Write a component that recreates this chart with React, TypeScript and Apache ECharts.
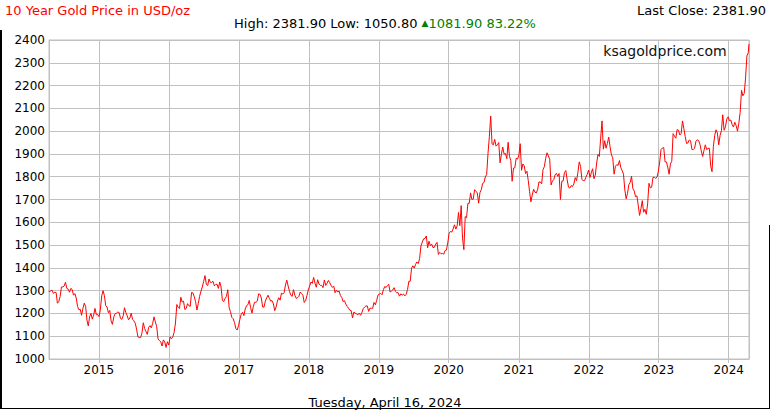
import React, { useEffect, useRef } from "react";
import * as echarts from "echarts";

// ---- data (weekly closes, USD/oz) ----
const startDate = [2014, 4, 16];
const startClose = 1300.0;
const lastDate = [2024, 4, 16];
const lastClose = 2381.9;

const firstFriday: Record<number, number[]> = {
  2014: [2014, 4, 18],
  2015: [2015, 1, 2],
  2016: [2016, 1, 1],
  2017: [2017, 1, 6],
  2018: [2018, 1, 5],
  2019: [2019, 1, 4],
  2020: [2020, 1, 3],
  2021: [2021, 1, 1],
  2022: [2022, 1, 7],
  2023: [2023, 1, 6],
  2024: [2024, 1, 5],
};

const gold2014 = [1294, 1300, 1302, 1288, 1293, 1292, 1245, 1252, 1274, 1316, 1316, 1320, 1337, 1310, 1307, 1293, 1310, 1305, 1280, 1287, 1268, 1231, 1216, 1218, 1192, 1222, 1245, 1231, 1171, 1145, 1185, 1200, 1175, 1192, 1222, 1195, 1195];
const gold2015 = [1186, 1216, 1277, 1300, 1279, 1234, 1228, 1203, 1213, 1167, 1152, 1184, 1199, 1201, 1206, 1204, 1178, 1174, 1189, 1225, 1204, 1190, 1172, 1180, 1201, 1174, 1168, 1157, 1131, 1097, 1095, 1094, 1113, 1159, 1134, 1121, 1108, 1139, 1146, 1137, 1156, 1185, 1163, 1142, 1088, 1081, 1076, 1057, 1084, 1075, 1050.8, 1076];
const gold2016 = [1061, 1097, 1089, 1097, 1117, 1158, 1239, 1227, 1222, 1271, 1250, 1254, 1217, 1222, 1243, 1234, 1231, 1292, 1290, 1273, 1252, 1215, 1243, 1275, 1298, 1316, 1340, 1366, 1328, 1322, 1351, 1336, 1336, 1341, 1321, 1327, 1328, 1310, 1338, 1316, 1257, 1252, 1266, 1275, 1304, 1225, 1208, 1183, 1177, 1160, 1134, 1127, 1146];
const gold2017 = [1173, 1196, 1205, 1190, 1220, 1234, 1238, 1257, 1226, 1201, 1229, 1249, 1249, 1254, 1286, 1284, 1268, 1228, 1228, 1254, 1268, 1280, 1266, 1254, 1256, 1242, 1212, 1228, 1254, 1269, 1258, 1289, 1285, 1291, 1325, 1346, 1320, 1297, 1280, 1275, 1304, 1280, 1266, 1269, 1275, 1294, 1287, 1280, 1248, 1256, 1278, 1303];
const gold2018 = [1320, 1338, 1332, 1358, 1333, 1315, 1348, 1329, 1323, 1323, 1313, 1347, 1323, 1332, 1345, 1335, 1323, 1314, 1320, 1291, 1302, 1294, 1298, 1278, 1270, 1252, 1256, 1241, 1231, 1223, 1214, 1212, 1180, 1206, 1201, 1198, 1194, 1201, 1192, 1204, 1221, 1228, 1233, 1233, 1209, 1223, 1223, 1222, 1248, 1238, 1257, 1281];
const gold2019 = [1285, 1288, 1282, 1304, 1318, 1314, 1322, 1328, 1294, 1298, 1303, 1313, 1297, 1291, 1291, 1276, 1286, 1280, 1285, 1277, 1284, 1305, 1341, 1341, 1399, 1409, 1399, 1415, 1426, 1419, 1440, 1497, 1513, 1527, 1529, 1540, 1488, 1517, 1497, 1504, 1489, 1490, 1504, 1512, 1459, 1468, 1462, 1463, 1460, 1476, 1478, 1510];
const gold2020 = [1552, 1560, 1557, 1571, 1589, 1570, 1584, 1643, 1585, 1673, 1530, 1480, 1625, 1620, 1683, 1683, 1729, 1700, 1702, 1743, 1735, 1730, 1684, 1730, 1743, 1771, 1774, 1799, 1810, 1902, 1975, 2066, 1944, 1940, 1964, 1934, 1940, 1950, 1861, 1900, 1930, 1899, 1902, 1879, 1951, 1889, 1871, 1780, 1838, 1839, 1881, 1877];
const gold2021 = [1895, 1945, 1828, 1856, 1848, 1814, 1824, 1784, 1734, 1690, 1720, 1745, 1732, 1729, 1744, 1777, 1777, 1769, 1831, 1844, 1881, 1905, 1891, 1877, 1764, 1781, 1787, 1808, 1815, 1802, 1814, 1700, 1780, 1781, 1818, 1827, 1788, 1754, 1750, 1761, 1757, 1768, 1796, 1783, 1818, 1865, 1846, 1788, 1783, 1783, 1798, 1811, 1829];
const gold2022 = [1797, 1817, 1835, 1791, 1807, 1860, 1898, 1889, 1970, 2045, 1921, 1958, 1925, 1946, 1974, 1931, 1896, 1883, 1811, 1846, 1853, 1850, 1871, 1840, 1827, 1811, 1742, 1703, 1727, 1765, 1775, 1802, 1747, 1738, 1712, 1716, 1675, 1630, 1660, 1695, 1644, 1657, 1635, 1681, 1771, 1751, 1754, 1797, 1797, 1793, 1798, 1824];
const gold2023 = [1865, 1920, 1926, 1928, 1865, 1865, 1842, 1811, 1856, 1868, 1989, 1978, 1969, 2007, 2004, 1983, 1990, 2045, 2011, 1977, 1946, 1948, 1961, 1958, 1920, 1919, 1925, 1955, 1962, 1959, 1943, 1913, 1889, 1915, 1940, 1919, 1924, 1925, 1848, 1822, 1932, 1981, 2006, 1992, 1940, 1981, 2002, 2072, 2004, 2019, 2053, 2063];
const gold2024 = [2045, 2049, 2029, 2018, 2039, 2024, 2000, 2035, 2083, 2179, 2155, 2165, 2233, 2330, 2344];

const years = [2014, 2015, 2016, 2017, 2018, 2019, 2020, 2021, 2022, 2023, 2024];
const yearValues = [gold2014, gold2015, gold2016, gold2017, gold2018, gold2019, gold2020, gold2021, gold2022, gold2023, gold2024];

const yMin = 1000;
const yMax = 2400;
const yStep = 100;

const titleText = "10 Year Gold Price in USD/oz";
const lastCloseText = "Last Close: 2381.90";
const highText = "High: 2381.90 Low: 1050.80 ";
const changeText = "1081.90 83.22%";
const siteText = "ksagoldprice.com";
const dateText = "Tuesday, April 16, 2024";

function ts(d: number[]) {
  return new Date(d[0], d[1] - 1, d[2]).getTime();
}

function buildData(): [number, number][] {
  const out: [number, number][] = [[ts(startDate), startClose]];
  years.forEach((y, k) => {
    const f = firstFriday[y];
    yearValues[k].forEach((v, i) => {
      out.push([new Date(f[0], f[1] - 1, f[2] + 7 * i).getTime(), v]);
    });
  });
  out.push([ts(lastDate), lastClose]);
  return out;
}

const FONT = '"DejaVu Sans", Verdana, sans-serif';

export default function App() {
  const ref = useRef<HTMLDivElement>(null);
  useEffect(() => {
    if (!ref.current) return;
    const chart = echarts.init(ref.current, undefined, { renderer: "svg" });
    chart.setOption({
      animation: false,
      backgroundColor: "#ffffff",
      grid: {
        left: 49,
        right: 21,
        top: 40,
        bottom: 51,
        show: true,
        borderColor: "#c0c0c0",
        borderWidth: 1,
      },
      xAxis: {
        type: "time",
        min: ts(startDate),
        max: ts(lastDate),
        splitNumber: 10,
        axisLine: { show: true, lineStyle: { color: "#c0c0c0", width: 1 } },
        axisTick: { show: true, length: 4, lineStyle: { color: "#c0c0c0" } },
        splitLine: { show: true, lineStyle: { color: "#c0c0c0", width: 1 } },
        axisLabel: {
          color: "#000",
          fontSize: 12,
          fontFamily: FONT,
          margin: 5,
          hideOverlap: false,
          formatter: (v: number) => {
            const d = new Date(v);
            return d.getMonth() === 0 && d.getDate() === 1 ? String(d.getFullYear()) : "";
          },
        },
      },
      yAxis: {
        type: "value",
        min: yMin,
        max: yMax,
        interval: yStep,
        axisLine: { show: true, lineStyle: { color: "#c0c0c0" } },
        axisTick: { show: false },
        splitLine: { show: true, lineStyle: { color: "#c0c0c0", width: 1 } },
        axisLabel: {
          color: "#000",
          fontSize: 12,
          fontFamily: FONT,
          margin: 4,
          formatter: (v: number) => String(v),
        },
      },
      series: [
        {
          type: "line",
          data: buildData(),
          showSymbol: false,
          symbol: "none",
          lineStyle: { color: "#ff0000", width: 1 },
          itemStyle: { color: "#ff0000" },
        },
      ],
      graphic: [
        {
          type: "text",
          x: 5,
          y: 10,
          style: { text: titleText, fill: "#ff0000", font: `13px ${FONT}`, textVerticalAlign: "middle" },
        },
        {
          type: "text",
          x: 766,
          y: 10,
          style: { text: lastCloseText, fill: "#000", font: `13px ${FONT}`, textAlign: "right", textVerticalAlign: "middle" },
        },
        {
          type: "text",
          x: 385,
          y: 23,
          style: {
            text: `{b|${highText}}{t|▲}{g|${changeText}}`,
            textAlign: "center",
            textVerticalAlign: "middle",
            rich: {
              b: { fill: "#000", font: `13px ${FONT}` },
              t: { fill: "#008000", font: `9px ${FONT}` },
              g: { fill: "#008000", font: `13px ${FONT}` },
            },
          },
        },
        {
          type: "text",
          x: 665,
          y: 51,
          style: { text: siteText, fill: "#111", font: `14px ${FONT}`, textAlign: "center", textVerticalAlign: "middle" },
        },
        {
          type: "text",
          x: 385,
          y: 402,
          style: { text: dateText, fill: "#000", font: `13px ${FONT}`, textAlign: "center", textVerticalAlign: "middle" },
        },
        { type: "line", shape: { x1: 1, y1: 30, x2: 1, y2: 409 }, style: { stroke: "#000", lineWidth: 2 } },
        { type: "line", shape: { x1: 0, y1: 408.5, x2: 770, y2: 408.5 }, style: { stroke: "#000", lineWidth: 1 } },
        { type: "line", shape: { x1: 769.5, y1: 225, x2: 769.5, y2: 409 }, style: { stroke: "#000", lineWidth: 1 } },
      ],
    });
    return () => chart.dispose();
  }, []);
  return (
    <div
      ref={ref}
      style={{ position: "fixed", left: 0, top: 0, width: 770, height: 410 }}
    />
  );
}
